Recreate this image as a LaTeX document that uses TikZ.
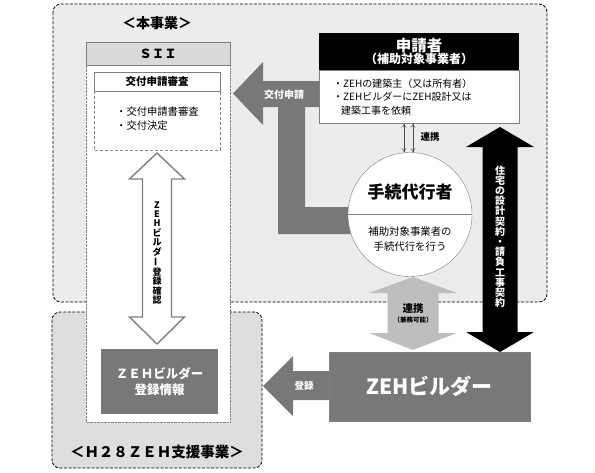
\documentclass[tikz,border=0pt]{standalone}
\usepackage{fontspec}
\setmainfont{Noto Sans CJK JP}
\usetikzlibrary{calc,arrows.meta}
\definecolor{panelfill}{HTML}{ECECEC}
\definecolor{subfill}{HTML}{DEDDE0}
\definecolor{siifill}{HTML}{D9D9D9}
\definecolor{darkbox}{HTML}{787878}
\definecolor{lightarrow}{HTML}{BEBEBE}
\begin{document}
\begin{tikzpicture}[x=1pt,y=-1pt,font=\fontsize{10}{13}\selectfont,
  panel/.style={draw,dash pattern=on 3pt off 1.6pt,rounded corners=8pt,line width=0.8pt},
  whitelbl/.style={text=white,inner sep=0pt},
  vtext/.style={align=center,inner sep=0pt},
  thinlink/.style={{To[length=4pt,width=5pt]}-{To[length=4pt,width=5pt]},line width=0.5pt,black!70}]
\useasboundingbox (0,0) rectangle (595,472);
% panels
\draw[panel,fill=panelfill] (53,4) rectangle (547,302);
\draw[panel,fill=subfill] (52,312) rectangle (262,468);
\node[font=\bfseries\fontsize{14}{14}\selectfont] (mainlbl) at (157,23) {＜本事業＞};
\node[font=\bfseries\fontsize{14.5}{14.5}\selectfont] (sublbl) at (157,452) {＜Ｈ２８ＺＥＨ支援事業＞};
% SII column
\draw[gray,densely dotted,fill=white] (86,42) rectangle (230,422);
\node[draw=gray,fill=siifill,minimum width=144,minimum height=23,inner sep=0pt,
  font=\bfseries\fontsize{12.5}{12.5}\selectfont] (sii) at (158,53.5) {ＳＩＩ};
\draw[gray,densely dashed] (94,91) rectangle (220,150);
\node[draw=gray,fill=white,minimum width=126,minimum height=19,inner sep=0pt,
  font=\bfseries\fontsize{10.5}{10.5}\selectfont] (review) at (157,81.5) {交付申請審査};
\node[anchor=west,align=left,inner sep=0pt,font=\fontsize{10.3}{14}\selectfont] (reviewtxt) at (116,119) {・交付申請書審査\\・交付決定};
% registration check arrow
\draw[gray,line width=1.4pt,fill=white] (157,153) -- (184.5,179) -- (171.5,179) -- (171.5,317) -- (184.5,317)
  -- (157,344) -- (129.5,317) -- (142.5,317) -- (142.5,179) -- (129.5,179) -- cycle;
\node[vtext,font=\bfseries\fontsize{9}{9.4}\selectfont] (confirm) at (157,253)
  {Z\\E\\H\\ビ\\ル\\ダ\\\rotatebox[origin=c]{90}{ー}\\登\\録\\確\\認};
\node[fill=darkbox,minimum width=117,minimum height=65,align=center,text=white,
  font=\bfseries\fontsize{12.5}{16}\selectfont] (reginfo) at (159.5,381.5) {ＺＥＨビルダー\\登録情報};
% application arrow
\fill[darkbox] (233,93.5) -- (263,62) -- (263,81) -- (325,81) -- (325,107) -- (305,107) -- (305,207)
  -- (360,207) -- (360,234) -- (278,234) -- (278,107) -- (263,107) -- (263,125) -- cycle;
\node[whitelbl,font=\bfseries\fontsize{10}{10}\selectfont] (apply) at (284,95) {交付申請};
% applicant
\node[fill=black,minimum width=200,minimum height=37,inner sep=0pt,align=center,text=white,font=\bfseries]
  (appl) at (419,51.5) {\fontsize{15.5}{19}\selectfont 申請者\\\fontsize{12}{13}\selectfont （補助対象事業者）};
\node[draw=gray,fill=white,minimum width=200,minimum height=53,anchor=north] (applbody) at (appl.south) {};
\node[anchor=west,align=left,inner sep=0pt,font=\fontsize{10}{13.5}\selectfont] (appltxt) at (333,97)
  {・ZEHの建築主（又は所有者）\\・ZEHビルダーにZEH設計又は\\\hspace{8pt}建築工事を依頼};
% proxy
\node[circle,draw=gray,fill=white,minimum size=124] (proxy) at (410,214.5) {};
\draw[gray] (proxy.west) -- (proxy.east);
\node[font=\bfseries\fontsize{17}{17}\selectfont] (proxyttl) at (410,192) {手続代行者};
\node[align=center,font=\fontsize{10.4}{15}\selectfont] (proxytxt) at (410,239.5) {補助対象事業者の\\手続代行を行う};
\foreach \dx [count=\k] in {-6,3} {
  \coordinate (link\k) at ($(proxy.north)+(\dx,0)$);
  \draw[thinlink] (link\k |- applbody.south) -- (link\k);
}
\node[font=\bfseries\fontsize{9.5}{9.5}\selectfont] (linklbl) at (430,137) {連携};
% cooperation arrow
\fill[lightarrow] (413,277) -- (457,293) -- (438.5,293) -- (438.5,333) -- (457,333) -- (413,350)
  -- (369,333) -- (387.5,333) -- (387.5,293) -- (369,293) -- cycle;
\node[font=\bfseries\fontsize{10.5}{10.5}\selectfont] (coop) at (413,309) {連携};
\node[font=\bfseries\fontsize{6.5}{6.5}\selectfont] (dual) at (413,320.5) {（兼務可能）};
% contract arrow
\fill[black] (500,127) -- (534,147) -- (517.5,147) -- (517.5,332) -- (534,332) -- (500,352)
  -- (466,332) -- (482.5,332) -- (482.5,147) -- (466,147) -- cycle;
\node[vtext,text=white,font=\bfseries\fontsize{10}{10.2}\selectfont] (contract) at (500,236.5)
  {住\\宅\\の\\設\\計\\契\\約\\・\\請\\負\\工\\事\\契\\約};
% builder
\fill[darkbox] (263,386) -- (293,356) -- (293,371) -- (330,371) -- (330,400) -- (293,400) -- (293,416) -- cycle;
\node[whitelbl,font=\bfseries\fontsize{9.5}{9.5}\selectfont] (reg) at (304,386) {登録};
\node[fill=darkbox,draw=gray,minimum width=201,minimum height=69,text=white,
  font=\bfseries\fontsize{21}{21}\selectfont] (builder) at (429.5,386.5) {ZEHビルダー};
\end{tikzpicture}
\end{document}
